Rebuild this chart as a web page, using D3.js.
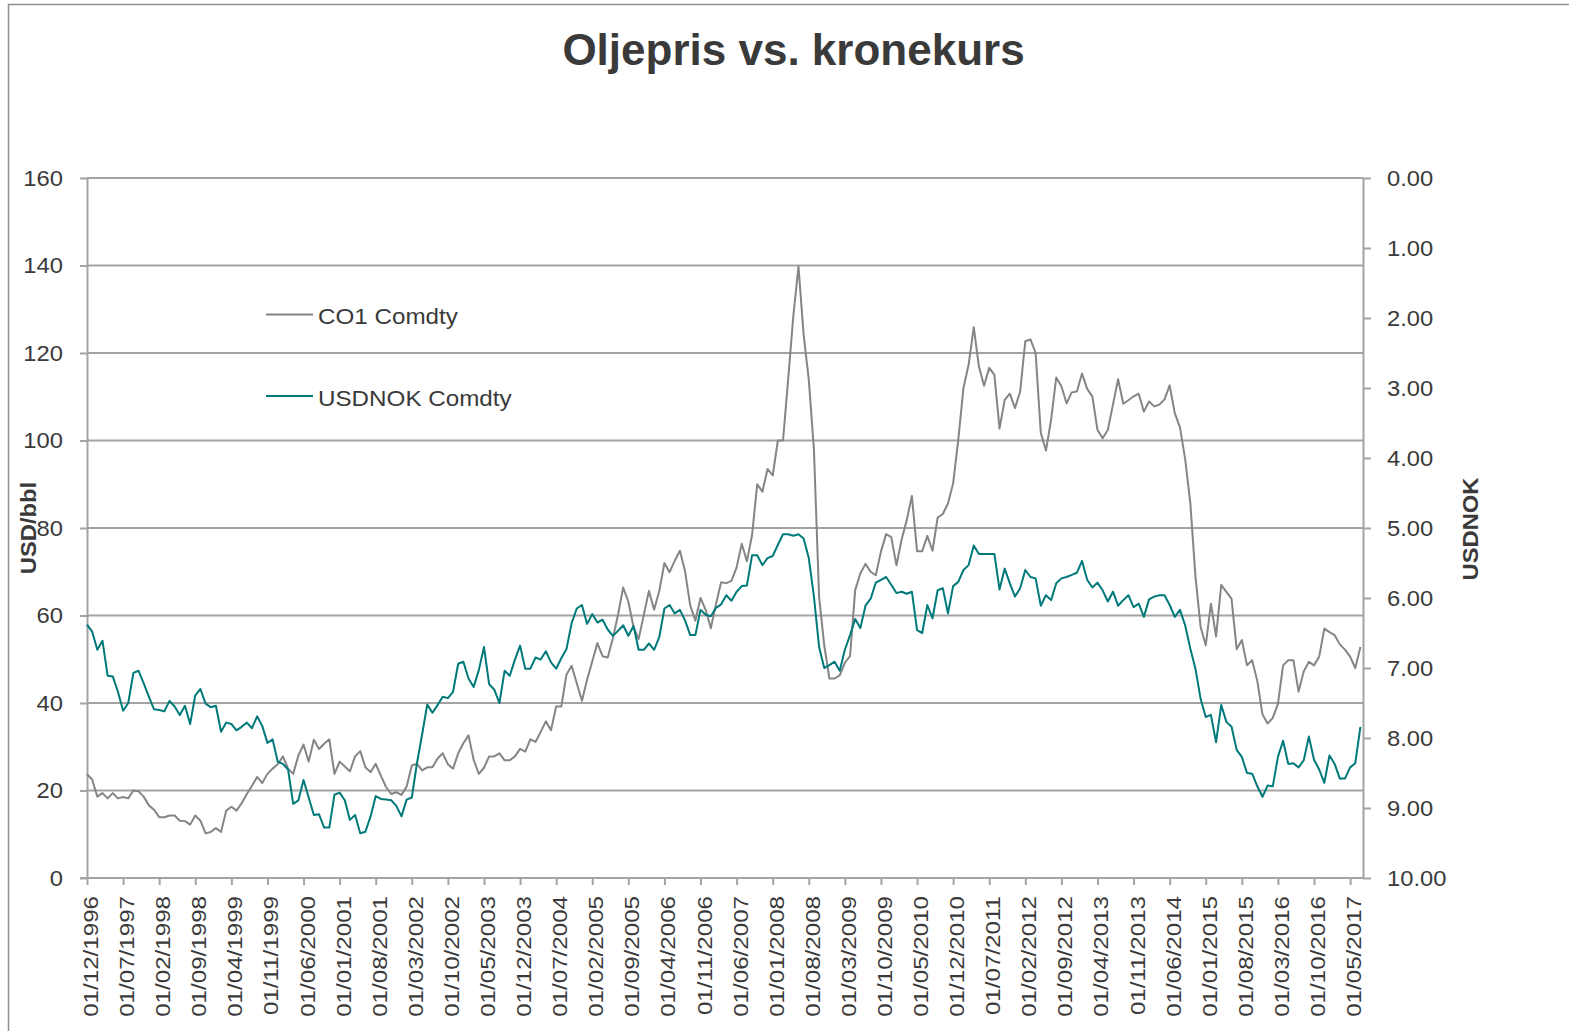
<!DOCTYPE html>
<html><head><meta charset="utf-8">
<script src="https://cdn.jsdelivr.net/npm/d3@7"></script>
<style>
body{margin:0;background:#fff}
svg{display:block}
text{font-family:"Liberation Sans",Arial,Helvetica,sans-serif;fill:#3a3a3a}
</style>
</head><body>
<svg id="chart" width="1569" height="1031"></svg>
<script>
// ---------- data ----------
const chartTitle = "Oljepris vs. kronekurs";
const seriesNames = ["CO1 Comdty", "USDNOK Comdty"];
const leftAxisTitle = "USD/bbl";
const rightAxisTitle = "USDNOK";
const firstMonth = "01/12/1996"; // monthly observations from here

const xTickLabels = ["01/12/1996","01/07/1997","01/02/1998","01/09/1998","01/04/1999","01/11/1999",
"01/06/2000","01/01/2001","01/08/2001","01/03/2002","01/10/2002","01/05/2003","01/12/2003",
"01/07/2004","01/02/2005","01/09/2005","01/04/2006","01/11/2006","01/06/2007","01/01/2008",
"01/08/2008","01/03/2009","01/10/2009","01/05/2010","01/12/2010","01/07/2011","01/02/2012",
"01/09/2012","01/04/2013","01/11/2013","01/06/2014","01/01/2015","01/08/2015","01/03/2016",
"01/10/2016","01/05/2017"];
const xTickStepMonths = 7;

const leftTicks = [0, 20, 40, 60, 80, 100, 120, 140, 160];
const rightTicks = [0, 1, 2, 3, 4, 5, 6, 7, 8, 9, 10];

// CO1 Comdty (Brent, USD/bbl), monthly
const co1 = [
23.7,22.5,18.6,19.4,18.2,19.4,18.2,18.5,18.2,20.0,
19.8,18.6,16.6,15.6,13.9,13.9,14.3,14.3,13.1,13.0,
12.2,14.3,13.1,10.2,10.5,11.4,10.5,15.4,16.3,15.4,
17.1,19.2,21.1,23.1,21.7,23.8,25.0,26.0,27.8,25.0,
23.8,28.0,30.5,26.6,31.6,29.5,30.7,31.7,23.8,26.6,
25.5,24.4,27.8,29.0,25.3,24.2,26.1,23.4,20.8,19.2,
19.6,19.0,20.9,25.7,26.1,24.6,25.3,25.3,27.3,28.5,
26.0,25.0,28.5,30.8,32.6,27.0,23.8,25.2,27.8,27.8,
28.5,26.9,26.9,27.8,29.5,28.9,31.7,31.1,33.4,35.8,
33.8,39.2,39.2,46.5,48.5,44.5,40.5,45.3,49.5,53.7,
50.7,50.4,54.8,60.2,66.4,63.2,57.4,54.6,60.2,65.6,
61.3,65.6,72.0,69.9,72.5,74.8,70.1,62.3,58.8,64.0,
61.3,57.1,62.6,67.6,67.4,67.9,71.0,76.4,72.4,78.4,
90.0,88.3,93.5,92.0,100.0,100.0,114.0,128.4,139.8,124.2,
113.9,97.9,64.3,53.2,45.6,45.6,46.3,49.2,50.7,65.8,
69.6,71.8,70.0,69.2,74.6,78.6,77.9,71.5,77.3,81.8,
87.3,74.7,74.7,78.2,74.8,82.4,83.2,85.6,90.2,100.2,
112.0,117.3,125.9,116.9,112.5,116.6,115.0,102.7,109.3,110.7,
107.4,111.2,122.7,123.1,120.0,101.8,97.7,104.7,114.4,112.4,
108.5,111.0,111.2,115.3,111.8,110.1,102.4,100.5,102.4,108.2,
114.0,108.4,109.2,110.1,110.7,106.6,108.9,107.8,108.2,109.4,
112.6,106.2,103.0,95.8,85.8,69.0,57.4,53.2,62.7,55.2,
67.0,65.4,63.8,52.3,54.4,48.6,49.8,45.0,37.4,35.3,
36.6,39.8,48.6,49.8,49.8,42.6,47.2,49.4,48.6,50.6,
57.0,56.2,55.5,53.4,52.2,50.6,48.0,52.8
];

// USDNOK Comdty, monthly (plotted on inverted right axis)
const usdnok = [
6.38,6.48,6.74,6.61,7.11,7.12,7.34,7.61,7.50,7.07,
7.04,7.22,7.41,7.59,7.60,7.62,7.47,7.55,7.67,7.54,
7.80,7.39,7.30,7.51,7.56,7.54,7.91,7.78,7.80,7.89,
7.84,7.78,7.86,7.69,7.83,8.07,8.02,8.34,8.37,8.45,
8.94,8.89,8.60,8.85,9.10,9.09,9.28,9.28,8.81,8.78,
8.89,9.17,9.10,9.36,9.34,9.12,8.83,8.87,8.88,8.89,
8.97,9.12,8.88,8.85,8.36,7.95,7.52,7.64,7.53,7.41,
7.43,7.34,6.94,6.91,7.15,7.27,7.03,6.70,7.23,7.31,
7.50,7.04,7.11,6.88,6.68,7.01,7.01,6.85,6.88,6.76,
6.92,7.01,6.86,6.73,6.36,6.15,6.10,6.37,6.23,6.35,
6.31,6.45,6.54,6.47,6.39,6.54,6.40,6.74,6.74,6.65,
6.74,6.56,6.15,6.10,6.22,6.17,6.32,6.53,6.53,6.17,
6.24,6.26,6.14,6.09,5.96,6.04,5.91,5.83,5.82,5.39,
5.39,5.53,5.43,5.40,5.24,5.09,5.09,5.11,5.09,5.15,
5.43,5.98,6.70,7.00,6.96,6.91,7.04,6.74,6.53,6.30,
6.43,6.11,6.01,5.78,5.74,5.70,5.81,5.93,5.91,5.94,
5.91,6.46,6.50,6.10,6.29,5.89,5.86,6.22,5.83,5.77,
5.60,5.53,5.25,5.37,5.37,5.37,5.37,5.88,5.58,5.79,
5.98,5.86,5.60,5.70,5.72,6.11,5.96,6.03,5.79,5.72,
5.70,5.67,5.64,5.47,5.74,5.85,5.78,5.89,6.05,5.91,
6.11,6.03,5.96,6.13,6.08,6.27,6.02,5.98,5.96,5.96,
6.10,6.27,6.17,6.39,6.72,7.01,7.44,7.70,7.67,8.06,
7.53,7.77,7.84,8.17,8.27,8.50,8.51,8.69,8.84,8.68,
8.69,8.27,8.04,8.37,8.36,8.42,8.32,7.98,8.31,8.45,
8.64,8.25,8.37,8.58,8.58,8.42,8.36,7.84
];

// ---------- drawing ----------
const svg = d3.select("#chart");
const plot = {left: 87, right: 1363, top: 178, bottom: 878};
const gridColor = "#a3a3a3";
const oilColor = "#858585";
const nokColor = "#00797a";

function stretch(sel, f) {
  sel.each(function () {
    const l = this.getComputedTextLength();
    this.setAttribute("textLength", l * f);
    this.setAttribute("lengthAdjust", "spacingAndGlyphs");
  });
}

// outer border
svg.append("rect").attr("x", 8.5).attr("y", 4.5).attr("width", 1600).attr("height", 1100)
  .attr("fill", "none").attr("stroke", "#8f8f8f").attr("stroke-width", 1.5);

const x = d3.scaleLinear().domain([0, co1.length - 0.5]).range([plot.left, plot.right]);
const yOil = d3.scaleLinear().domain([0, 160]).range([plot.bottom, plot.top]);
const yNok = d3.scaleLinear().domain([0, 10]).range([plot.top, plot.bottom]);

// gridlines
svg.append("g").selectAll("line").data(leftTicks.filter(d => d > 0)).join("line")
  .attr("x1", plot.left).attr("x2", plot.right)
  .attr("y1", d => yOil(d)).attr("y2", d => yOil(d))
  .attr("stroke", gridColor).attr("stroke-width", 2);

function styleAxis(g) {
  g.select(".domain").attr("stroke", gridColor).attr("stroke-width", 2);
  g.selectAll(".tick line").attr("stroke", gridColor).attr("stroke-width", 2);
  g.selectAll("text").attr("fill", "#3a3a3a").style("font-family", '"Liberation Sans",Arial,sans-serif');
}

// left axis
const gL = svg.append("g").attr("transform", `translate(${plot.left},0)`)
  .call(d3.axisLeft(yOil).tickValues(leftTicks).tickSize(7).tickSizeOuter(0).tickPadding(17));
styleAxis(gL);
gL.selectAll("text").style("font-size", "22px");
stretch(gL.selectAll("text"), 1.08);

// right axis
const gR = svg.append("g").attr("transform", `translate(${plot.right},0)`)
  .call(d3.axisRight(yNok).tickValues(rightTicks).tickFormat(d3.format(".2f")).tickSize(8).tickSizeOuter(0).tickPadding(16));
styleAxis(gR);
gR.selectAll("text").style("font-size", "22px");
stretch(gR.selectAll("text"), 1.08);

// bottom axis
const tickIdx = xTickLabels.map((_, i) => i * xTickStepMonths);
const gB = svg.append("g").attr("transform", `translate(0,${plot.bottom})`)
  .call(d3.axisBottom(x).tickValues(tickIdx).tickFormat((d, i) => xTickLabels[i]).tickSize(7).tickSizeOuter(0));
styleAxis(gB);
gB.select(".domain").attr("d", `M${plot.left - 7},0H${plot.right}`);
gB.selectAll("text")
  .style("font-size", "21px")
  .attr("text-anchor", "end")
  .attr("transform", "rotate(-90)")
  .attr("x", -18).attr("y", 0).attr("dy", "0.5em");
stretch(gB.selectAll("text"), 1.15);

// lines
const lineOil = d3.line().x((d, i) => x(i)).y(d => yOil(d));
const lineNok = d3.line().x((d, i) => x(i)).y(d => yNok(d));
svg.append("path").datum(co1).attr("d", lineOil).attr("fill", "none")
  .attr("stroke", oilColor).attr("stroke-width", 2).attr("stroke-linejoin", "round");
svg.append("path").datum(usdnok).attr("d", lineNok).attr("fill", "none")
  .attr("stroke", nokColor).attr("stroke-width", 2).attr("stroke-linejoin", "round");

// title
svg.append("text").attr("x", 793.5).attr("y", 65).attr("text-anchor", "middle")
  .style("font-size", "44px").style("font-weight", "bold").attr("fill", "#333")
  .text(chartTitle);

// axis titles
svg.append("text").attr("transform", "translate(36,528) rotate(-90)").attr("text-anchor", "middle")
  .style("font-size", "22px").style("font-weight", "bold").attr("fill", "#333").text(leftAxisTitle)
  .call(s => stretch(s, 1.08));
svg.append("text").attr("transform", "translate(1478,529) rotate(-90)").attr("text-anchor", "middle")
  .style("font-size", "22px").style("font-weight", "bold").attr("fill", "#333").text(rightAxisTitle)
  .call(s => stretch(s, 1.08));

// legend
const legendY = [314.5, 396];
const legendColors = [oilColor, nokColor];
const lg = svg.append("g");
seriesNames.forEach((name, i) => {
  lg.append("line").attr("x1", 266).attr("x2", 313).attr("y1", legendY[i]).attr("y2", legendY[i])
    .attr("stroke", legendColors[i]).attr("stroke-width", 2);
  lg.append("text").attr("x", 318).attr("y", legendY[i] + 9.5).style("font-size", "22px")
    .attr("fill", "#333").text(name).call(s => stretch(s, 1.1));
});
</script>
</body></html>
